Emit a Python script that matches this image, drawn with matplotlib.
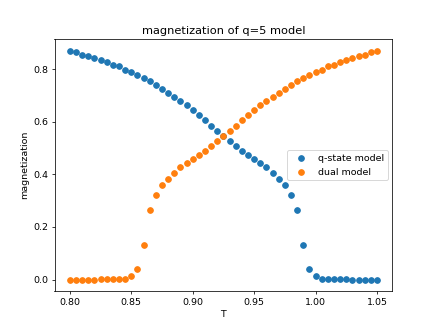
import numpy as np
import matplotlib.pyplot as plt

# temperature grid
T = [0.800, 0.805, 0.810, 0.815, 0.820, 0.825, 0.830, 0.835, 0.840, 0.845,
     0.850, 0.855, 0.860, 0.865, 0.870, 0.875, 0.880, 0.885, 0.890, 0.895,
     0.900, 0.905, 0.910, 0.915, 0.920, 0.925, 0.930, 0.935, 0.940, 0.945,
     0.950, 0.955, 0.960, 0.965, 0.970, 0.975, 0.980, 0.985, 0.990, 0.995,
     1.000, 1.005, 1.010, 1.015, 1.020, 1.025, 1.030, 1.035, 1.040, 1.045,
     1.050]

# magnetization of q-state model
m_q = [0.870, 0.864, 0.855, 0.849, 0.843, 0.835, 0.826, 0.817, 0.810, 0.798,
       0.788, 0.777, 0.766, 0.753, 0.739, 0.725, 0.710, 0.694, 0.678, 0.662,
       0.644, 0.625, 0.606, 0.585, 0.566, 0.547, 0.526, 0.506, 0.488, 0.473,
       0.457, 0.442, 0.428, 0.406, 0.383, 0.358, 0.323, 0.264, 0.132, 0.042,
       0.012, 0.004, 0.002, 0.001, 0.001, 0.001, 0.000, 0.000, 0.000, 0.000,
       0.000]

# magnetization of dual model
m_dual = [0.000, 0.000, 0.000, 0.000, 0.000, 0.001, 0.001, 0.001, 0.002, 0.004,
          0.012, 0.042, 0.132, 0.264, 0.323, 0.358, 0.383, 0.406, 0.428, 0.442,
          0.457, 0.473, 0.488, 0.506, 0.526, 0.547, 0.566, 0.585, 0.606, 0.625,
          0.644, 0.662, 0.678, 0.694, 0.710, 0.725, 0.739, 0.753, 0.766, 0.777,
          0.788, 0.798, 0.810, 0.817, 0.826, 0.835, 0.843, 0.849, 0.855, 0.864,
          0.870]

plt.figure(figsize=(6.4, 4.8), dpi=68.125)
plt.scatter(T, m_q, label='q-state model')
plt.scatter(T, m_dual, label='dual model')
plt.title('magnetization of q=5 model')
plt.xlabel('T')
plt.ylabel('magnetization')
plt.legend(loc='center right')
plt.savefig('out.png')
